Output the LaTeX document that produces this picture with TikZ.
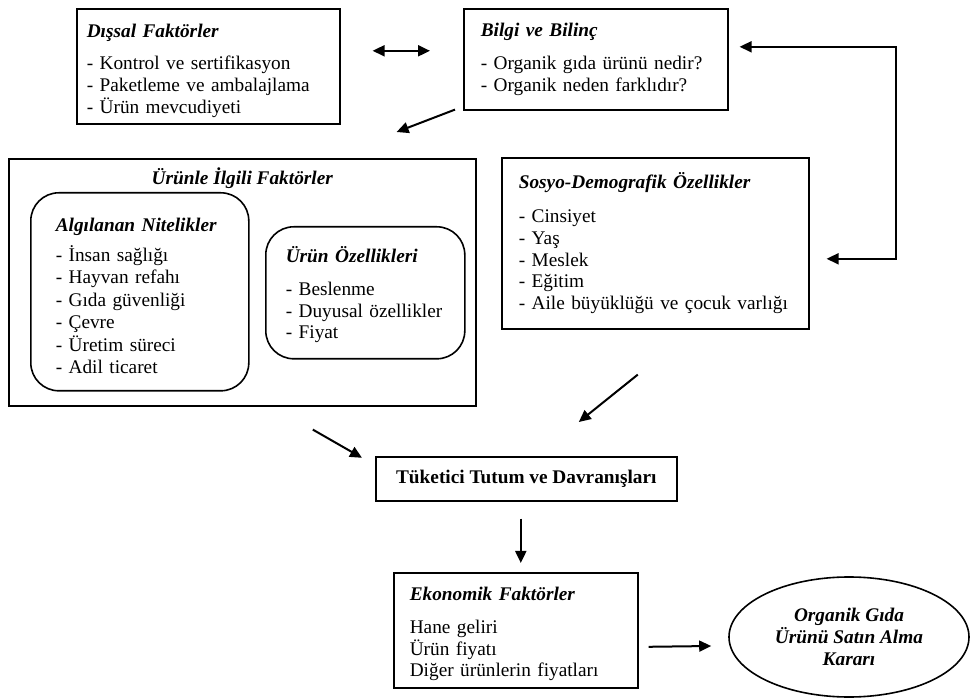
\documentclass[tikz,border=0pt]{standalone}
\usepackage{fontspec}
\setmainfont{Liberation Serif}
\usetikzlibrary{arrows.meta,shapes.geometric}
\newcommand{\bti}[1]{\textbf{\textit{#1}}}

\begin{document}
\begin{tikzpicture}[x=1pt, y=1pt,
  >={Triangle[length=12pt,width=11pt]},
  box/.style={draw, line width=1.6pt, anchor=north west, align=left, inner ysep=0pt,
    font=\fontsize{19.3}{21.7}\selectfont},
  rbox/.style={box, rounded corners=28pt},
  arr/.style={line width=2pt, ->}]
\useasboundingbox (0,0) rectangle (970,-700);

\node [box, minimum width=263, minimum height=115, inner xsep=10, text width=243] (dis) at (76,-8)
  {\rule{0pt}{22pt}\bti{Dışsal Faktörler}\\[11pt] - Kontrol ve sertifikasyon\\ - Paketleme ve ambalajlama\\ - Ürün mevcudiyeti};
\node [box, minimum width=264, minimum height=101, inner xsep=17, text width=230] (bil) at (463,-8)
  {\bti{Bilgi ve Bilinç}\\[11pt] - Organik gıda ürünü nedir?\\ - Organik neden farklıdır?};
\node [box, minimum width=467, minimum height=247,
  label={[anchor=north, yshift=-6pt, font=\fontsize{19.3}{21.7}\selectfont]north:\bti{Ürünle İlgili Faktörler}}] (prod) at (8,-158) {};
\node [rbox, minimum width=218, minimum height=198, inner xsep=25, text width=168,
  font=\fontsize{19.3}{22.4}\selectfont] (alg) at (30,-192)
  {\rule{0pt}{21pt}\bti{Algılanan Nitelikler}\\[8pt] - İnsan sağlığı\\ - Hayvan refahı\\ - Gıda güvenliği\\ - Çevre\\ - Üretim süreci\\ - Adil ticaret};
\node [rbox, minimum width=199, minimum height=132, inner xsep=20, text width=159] (urn) at (265,-226)
  {\rule{0pt}{20pt}\bti{Ürün Özellikleri}\\[11pt] - Beslenme\\ - Duyusal özellikler\\ - Fiyat};
\node [box, minimum width=307, minimum height=171, inner xsep=17, text width=273] (soc) at (501,-157)
  {\bti{Sosyo-Demografik Özellikler}\\[12pt] - Cinsiyet\\ - Yaş\\ - Meslek\\ - Eğitim\\ - Aile büyüklüğü ve çocuk varlığı};
\node [box, minimum width=301, minimum height=44, align=center] (tuk) at (375,-456)
  {\textbf{Tüketici Tutum ve Davranışları}};
\node [box, minimum width=244, minimum height=115, inner xsep=16, text width=212] (eco) at (393,-572)
  {\rule{0pt}{21pt}\bti{Ekonomik Faktörler}\\[11pt] Hane geliri\\ Ürün fiyatı\\ Diğer ürünlerin fiyatları};
\node [draw, ellipse, line width=1.6pt, minimum width=240, minimum height=120, align=center,
  font=\fontsize{19.3}{21.7}\selectfont] (kar) at (849,-637)
  {\bti{Organik Gıda}\\ \bti{Ürünü Satın Alma}\\ \bti{Kararı}};

\draw [arr, <->] ([shift={(32,15.5)}]dis.east) -- ([shift={(-33,8.5)}]bil.west);
\draw [arr] ([shift={(-8,1)}]bil.south west) -- ([shift={(-80,26)}]prod.north east);
\draw [arr, <->] ([shift={(11,12.5)}]bil.east) -- ++(156,0) |- ([shift={(17,-15.5)}]soc.east);
\draw [arr] ([shift={(-17.5,-45)}]soc.south) -- ([shift={(52.5,34)}]tuk.north);
\draw [arr] ([shift={(70.5,-23)}]prod.south) -- ([shift={(-13,21)}]tuk.west);
\draw [arr] ([shift={(-5.5,-17)}]tuk.south) -- ([shift={(5,9)}]eco.north);
\draw [arr] ([shift={(10,-16.5)}]eco.east) -- ([shift={(-17,-9)}]kar.west);
\end{tikzpicture}
\end{document}
